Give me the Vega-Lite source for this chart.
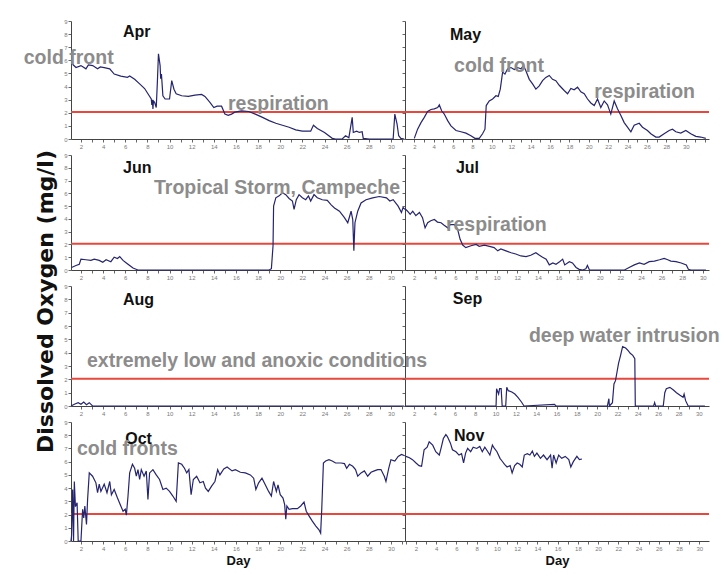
{
  "$schema": "https://vega.github.io/schema/vega-lite/v6.json",
  "background": "white",
  "padding": {"left": 23, "top": 18, "right": 5, "bottom": 5},
  "title": {"text": "Dissolved Oxygen (mg/l)", "orient": "left", "anchor": "middle", "font": "DejaVu Sans", "fontSize": 22, "fontWeight": "bold", "color": "#111111", "offset": -34, "dx": -9},
  "bounds": "flush",
  "align": "each",
  "columns": 2,
  "spacing": {"row": 16, "column": 0},
  "datasets": {
    "thr": [{"v": 2.05}],
    "t": [
      {"m": "Apr", "k": "m", "d": 5.8, "v": 7.81, "label": "Apr"},
      {"m": "May", "k": "m", "d": 5.68, "v": 7.58, "label": "May"},
      {"m": "Jun", "k": "m", "d": 5.8, "v": 7.57, "label": "Jun"},
      {"m": "Jul", "k": "m", "d": 6.04, "v": 7.57, "label": "Jul"},
      {"m": "Aug", "k": "m", "d": 5.8, "v": 7.61, "label": "Aug"},
      {"m": "Sep", "k": "m", "d": 5.8, "v": 7.65, "label": "Sep"},
      {"m": "Oct", "k": "m", "d": 6.0, "v": 7.3, "label": "Oct"},
      {"m": "Nov", "k": "m", "d": 5.76, "v": 7.6, "label": "Nov"},
      {"m": "Apr", "k": "a", "d": -3.17, "v": 5.72, "label": "cold front"},
      {"m": "Apr", "k": "a", "d": 15.28, "v": 2.24, "label": "respiration"},
      {"m": "May", "k": "a", "d": 6.1, "v": 5.09, "label": "cold front"},
      {"m": "May", "k": "a", "d": 20.56, "v": 3.13, "label": "respiration"},
      {"m": "Jun", "k": "a", "d": 8.6, "v": 5.97, "label": "Tropical Storm, Campeche"},
      {"m": "Jul", "k": "a", "d": 5.07, "v": 3.05, "label": "respiration"},
      {"m": "Aug", "k": "a", "d": 2.54, "v": 2.95, "label": "extremely low and anoxic conditions"},
      {"m": "Sep", "k": "a", "d": 13.28, "v": 4.81, "label": "deep water intrusion"},
      {"m": "Oct", "k": "a", "d": 1.64, "v": 6.53, "label": "cold fronts"}
    ],
    "s": [
      {"m":"Apr","d":1.24,"v":5.7},{"m":"Apr","d":1.55,"v":5.45},{"m":"Apr","d":2.0,"v":5.6},{"m":"Apr","d":2.45,"v":5.35},{"m":"Apr","d":2.67,"v":5.65},{"m":"Apr","d":3.06,"v":5.6},{"m":"Apr","d":3.5,"v":5.35},{"m":"Apr","d":3.75,"v":5.5},{"m":"Apr","d":4.1,"v":5.45},{"m":"Apr","d":4.6,"v":5.35},{"m":"Apr","d":5.0,"v":4.95},{"m":"Apr","d":5.6,"v":4.8},{"m":"Apr","d":6.2,"v":4.7},{"m":"Apr","d":6.4,"v":4.8},{"m":"Apr","d":6.85,"v":4.55},{"m":"Apr","d":7.3,"v":4.2},{"m":"Apr","d":7.75,"v":3.85},{"m":"Apr","d":8.05,"v":3.45},{"m":"Apr","d":8.35,"v":3.05},{"m":"Apr","d":8.4,"v":2.6},{"m":"Apr","d":8.45,"v":3.0},{"m":"Apr","d":8.5,"v":2.3},{"m":"Apr","d":8.55,"v":2.9},{"m":"Apr","d":8.65,"v":2.8},{"m":"Apr","d":8.8,"v":2.4},{"m":"Apr","d":8.9,"v":4.3},{"m":"Apr","d":9.0,"v":6.5},{"m":"Apr","d":9.15,"v":5.6},{"m":"Apr","d":9.2,"v":4.6},{"m":"Apr","d":9.27,"v":4.95},{"m":"Apr","d":9.4,"v":3.3},{"m":"Apr","d":9.6,"v":3.05},{"m":"Apr","d":10.0,"v":3.05},{"m":"Apr","d":10.2,"v":4.45},{"m":"Apr","d":10.4,"v":3.8},{"m":"Apr","d":10.6,"v":3.45},{"m":"Apr","d":11.1,"v":3.3},{"m":"Apr","d":11.7,"v":3.25},{"m":"Apr","d":12.3,"v":3.35},{"m":"Apr","d":12.9,"v":3.4},{"m":"Apr","d":13.2,"v":3.25},{"m":"Apr","d":13.65,"v":2.8},{"m":"Apr","d":14.0,"v":2.4},{"m":"Apr","d":14.3,"v":2.5},{"m":"Apr","d":14.7,"v":2.5},{"m":"Apr","d":15.0,"v":1.9},{"m":"Apr","d":15.3,"v":1.8},{"m":"Apr","d":15.6,"v":1.9},{"m":"Apr","d":15.9,"v":2.05},{"m":"Apr","d":16.5,"v":2.15},{"m":"Apr","d":17.15,"v":2.1},{"m":"Apr","d":17.75,"v":1.9},{"m":"Apr","d":18.4,"v":1.65},{"m":"Apr","d":19.0,"v":1.4},{"m":"Apr","d":19.6,"v":1.2},{"m":"Apr","d":20.2,"v":1.05},{"m":"Apr","d":20.8,"v":0.9},{"m":"Apr","d":21.4,"v":0.7},{"m":"Apr","d":22.0,"v":0.6},{"m":"Apr","d":22.75,"v":0.6},{"m":"Apr","d":23.0,"v":1.05},{"m":"Apr","d":23.35,"v":0.8},{"m":"Apr","d":24.0,"v":0.5},{"m":"Apr","d":24.7,"v":0.05},{"m":"Apr","d":25.0,"v":0},{"m":"Apr","d":25.6,"v":0},{"m":"Apr","d":25.9,"v":0.25},{"m":"Apr","d":26.2,"v":0.1},{"m":"Apr","d":26.5,"v":1.65},{"m":"Apr","d":26.6,"v":0.5},{"m":"Apr","d":26.9,"v":0.6},{"m":"Apr","d":27.15,"v":0.5},{"m":"Apr","d":27.4,"v":0.55},{"m":"Apr","d":27.5,"v":0.05},{"m":"Apr","d":28.05,"v":0},{"m":"Apr","d":30.2,"v":0},{"m":"Apr","d":30.35,"v":1.9},{"m":"Apr","d":30.55,"v":1.15},{"m":"Apr","d":30.7,"v":0.25},{"m":"Apr","d":30.9,"v":0.05},{"m":"Apr","d":31.2,"v":0},
      {"m":"May","d":2.0,"v":0.05},{"m":"May","d":2.34,"v":0.75},{"m":"May","d":2.69,"v":1.25},{"m":"May","d":3.03,"v":1.65},{"m":"May","d":3.37,"v":2.1},{"m":"May","d":3.72,"v":2.25},{"m":"May","d":4.06,"v":2.3},{"m":"May","d":4.41,"v":2.4},{"m":"May","d":4.58,"v":2.6},{"m":"May","d":4.82,"v":2.15},{"m":"May","d":5.09,"v":1.9},{"m":"May","d":5.44,"v":1.4},{"m":"May","d":5.78,"v":1.0},{"m":"May","d":6.3,"v":0.65},{"m":"May","d":6.81,"v":0.55},{"m":"May","d":7.33,"v":0.45},{"m":"May","d":7.84,"v":0.25},{"m":"May","d":8.25,"v":0.05},{"m":"May","d":8.7,"v":0.05},{"m":"May","d":9.04,"v":0.4},{"m":"May","d":9.29,"v":0.75},{"m":"May","d":9.42,"v":2.55},{"m":"May","d":9.73,"v":2.9},{"m":"May","d":10.08,"v":3.05},{"m":"May","d":10.42,"v":3.3},{"m":"May","d":10.66,"v":3.25},{"m":"May","d":10.87,"v":3.8},{"m":"May","d":11.11,"v":5.1},{"m":"May","d":11.35,"v":4.95},{"m":"May","d":11.62,"v":5.35},{"m":"May","d":11.97,"v":5.45},{"m":"May","d":12.31,"v":5.3},{"m":"May","d":12.65,"v":5.45},{"m":"May","d":13.0,"v":5.35},{"m":"May","d":13.27,"v":5.6},{"m":"May","d":13.51,"v":5.2},{"m":"May","d":13.86,"v":4.55},{"m":"May","d":14.2,"v":4.2},{"m":"May","d":14.54,"v":3.8},{"m":"May","d":14.89,"v":4.05},{"m":"May","d":15.23,"v":4.45},{"m":"May","d":15.57,"v":4.7},{"m":"May","d":15.92,"v":4.85},{"m":"May","d":16.26,"v":4.55},{"m":"May","d":16.6,"v":4.45},{"m":"May","d":16.95,"v":4.1},{"m":"May","d":17.46,"v":3.7},{"m":"May","d":17.81,"v":3.45},{"m":"May","d":18.15,"v":3.85},{"m":"May","d":18.49,"v":3.75},{"m":"May","d":18.84,"v":3.95},{"m":"May","d":19.18,"v":3.6},{"m":"May","d":19.53,"v":3.45},{"m":"May","d":19.87,"v":3.05},{"m":"May","d":20.21,"v":2.75},{"m":"May","d":20.56,"v":2.55},{"m":"May","d":20.9,"v":3.05},{"m":"May","d":21.24,"v":2.4},{"m":"May","d":21.59,"v":2.9},{"m":"May","d":21.93,"v":2.6},{"m":"May","d":22.27,"v":1.9},{"m":"May","d":22.62,"v":2.9},{"m":"May","d":22.96,"v":2.3},{"m":"May","d":23.31,"v":1.8},{"m":"May","d":23.65,"v":1.25},{"m":"May","d":23.99,"v":0.9},{"m":"May","d":24.34,"v":0.55},{"m":"May","d":24.68,"v":1.05},{"m":"May","d":25.2,"v":1.2},{"m":"May","d":25.54,"v":0.9},{"m":"May","d":26.05,"v":0.65},{"m":"May","d":26.4,"v":0.4},{"m":"May","d":26.91,"v":0.15},{"m":"May","d":27.26,"v":0.15},{"m":"May","d":27.77,"v":0.4},{"m":"May","d":28.29,"v":0.65},{"m":"May","d":28.63,"v":0.75},{"m":"May","d":28.98,"v":0.55},{"m":"May","d":29.49,"v":0.45},{"m":"May","d":30.01,"v":0.65},{"m":"May","d":30.52,"v":0.4},{"m":"May","d":31.04,"v":0.2},{"m":"May","d":31.55,"v":0.15},{"m":"May","d":32.07,"v":0.05},
      {"m":"Jun","d":1.15,"v":0.2},{"m":"Jun","d":1.55,"v":0.35},{"m":"Jun","d":1.85,"v":0.45},{"m":"Jun","d":2.0,"v":0.85},{"m":"Jun","d":2.45,"v":0.8},{"m":"Jun","d":2.9,"v":0.75},{"m":"Jun","d":3.2,"v":0.85},{"m":"Jun","d":3.65,"v":0.75},{"m":"Jun","d":3.97,"v":0.6},{"m":"Jun","d":4.27,"v":0.8},{"m":"Jun","d":4.7,"v":0.65},{"m":"Jun","d":5.0,"v":1.0},{"m":"Jun","d":5.3,"v":0.9},{"m":"Jun","d":5.5,"v":1.05},{"m":"Jun","d":5.8,"v":0.75},{"m":"Jun","d":6.1,"v":0.55},{"m":"Jun","d":6.4,"v":0.35},{"m":"Jun","d":6.7,"v":0.15},{"m":"Jun","d":7.15,"v":0},{"m":"Jun","d":19.0,"v":0},{"m":"Jun","d":19.2,"v":0.1},{"m":"Jun","d":19.35,"v":1.9},{"m":"Jun","d":19.4,"v":5.0},{"m":"Jun","d":19.6,"v":5.65},{"m":"Jun","d":19.9,"v":5.8},{"m":"Jun","d":20.2,"v":6.05},{"m":"Jun","d":20.5,"v":5.9},{"m":"Jun","d":20.8,"v":5.6},{"m":"Jun","d":21.1,"v":5.4},{"m":"Jun","d":21.25,"v":4.75},{"m":"Jun","d":21.45,"v":5.5},{"m":"Jun","d":21.7,"v":5.9},{"m":"Jun","d":22.0,"v":5.65},{"m":"Jun","d":22.3,"v":5.5},{"m":"Jun","d":22.55,"v":5.8},{"m":"Jun","d":22.75,"v":5.4},{"m":"Jun","d":23.05,"v":5.9},{"m":"Jun","d":23.35,"v":5.65},{"m":"Jun","d":23.8,"v":5.5},{"m":"Jun","d":24.25,"v":5.45},{"m":"Jun","d":24.6,"v":5.1},{"m":"Jun","d":24.9,"v":4.85},{"m":"Jun","d":25.35,"v":4.6},{"m":"Jun","d":25.8,"v":4.1},{"m":"Jun","d":26.1,"v":3.7},{"m":"Jun","d":26.4,"v":4.6},{"m":"Jun","d":26.55,"v":3.95},{"m":"Jun","d":26.65,"v":1.5},{"m":"Jun","d":26.75,"v":3.7},{"m":"Jun","d":27.0,"v":4.6},{"m":"Jun","d":27.3,"v":5.25},{"m":"Jun","d":27.75,"v":5.5},{"m":"Jun","d":28.35,"v":5.65},{"m":"Jun","d":28.95,"v":5.75},{"m":"Jun","d":29.6,"v":5.65},{"m":"Jun","d":29.9,"v":5.4},{"m":"Jun","d":30.2,"v":5.5},{"m":"Jun","d":30.65,"v":5.0},{"m":"Jun","d":30.95,"v":4.5},{"m":"Jun","d":31.1,"v":4.9},{"m":"Jun","d":31.25,"v":4.75},
      {"m":"Jul","d":1.1,"v":4.8},{"m":"Jul","d":1.35,"v":4.6},{"m":"Jul","d":1.6,"v":4.35},{"m":"Jul","d":1.85,"v":4.6},{"m":"Jul","d":2.15,"v":4.25},{"m":"Jul","d":2.5,"v":4.5},{"m":"Jul","d":2.8,"v":4.1},{"m":"Jul","d":3.05,"v":3.3},{"m":"Jul","d":3.3,"v":3.7},{"m":"Jul","d":3.6,"v":3.85},{"m":"Jul","d":3.95,"v":3.95},{"m":"Jul","d":4.25,"v":3.75},{"m":"Jul","d":4.6,"v":3.7},{"m":"Jul","d":4.9,"v":3.5},{"m":"Jul","d":5.25,"v":3.3},{"m":"Jul","d":5.5,"v":3.55},{"m":"Jul","d":5.9,"v":3.55},{"m":"Jul","d":6.2,"v":3.2},{"m":"Jul","d":6.45,"v":2.4},{"m":"Jul","d":6.7,"v":1.95},{"m":"Jul","d":7.0,"v":1.75},{"m":"Jul","d":7.5,"v":1.9},{"m":"Jul","d":8.0,"v":2.0},{"m":"Jul","d":8.3,"v":1.85},{"m":"Jul","d":8.8,"v":1.95},{"m":"Jul","d":9.3,"v":1.85},{"m":"Jul","d":9.75,"v":1.75},{"m":"Jul","d":10.1,"v":1.5},{"m":"Jul","d":10.4,"v":1.65},{"m":"Jul","d":10.9,"v":1.5},{"m":"Jul","d":11.4,"v":1.35},{"m":"Jul","d":11.85,"v":1.25},{"m":"Jul","d":12.35,"v":1.1},{"m":"Jul","d":12.85,"v":1.05},{"m":"Jul","d":13.3,"v":1.15},{"m":"Jul","d":13.8,"v":1.35},{"m":"Jul","d":14.15,"v":1.15},{"m":"Jul","d":14.45,"v":1.0},{"m":"Jul","d":14.8,"v":0.85},{"m":"Jul","d":15.1,"v":0.4},{"m":"Jul","d":15.45,"v":0.55},{"m":"Jul","d":15.75,"v":0.45},{"m":"Jul","d":16.1,"v":0.65},{"m":"Jul","d":16.4,"v":0.85},{"m":"Jul","d":16.6,"v":0.4},{"m":"Jul","d":17.05,"v":0.65},{"m":"Jul","d":17.35,"v":0.55},{"m":"Jul","d":17.7,"v":0.2},{"m":"Jul","d":18.0,"v":0.05},{"m":"Jul","d":18.35,"v":0},{"m":"Jul","d":18.65,"v":0.1},{"m":"Jul","d":18.8,"v":0.35},{"m":"Jul","d":19.0,"v":0},{"m":"Jul","d":22.4,"v":0},{"m":"Jul","d":22.85,"v":0.2},{"m":"Jul","d":23.35,"v":0.4},{"m":"Jul","d":23.85,"v":0.55},{"m":"Jul","d":24.3,"v":0.45},{"m":"Jul","d":24.8,"v":0.65},{"m":"Jul","d":25.3,"v":0.7},{"m":"Jul","d":25.8,"v":0.8},{"m":"Jul","d":26.25,"v":0.9},{"m":"Jul","d":26.6,"v":0.8},{"m":"Jul","d":26.9,"v":0.7},{"m":"Jul","d":27.4,"v":0.65},{"m":"Jul","d":27.9,"v":0.55},{"m":"Jul","d":28.4,"v":0.4},{"m":"Jul","d":28.6,"v":0.05},{"m":"Jul","d":28.85,"v":0},{"m":"Jul","d":30.3,"v":0},
      {"m":"Aug","d":1.1,"v":0},{"m":"Aug","d":1.4,"v":0.13},{"m":"Aug","d":1.75,"v":0.25},{"m":"Aug","d":2.0,"v":0.13},{"m":"Aug","d":2.25,"v":0.3},{"m":"Aug","d":2.5,"v":0.1},{"m":"Aug","d":2.75,"v":0.25},{"m":"Aug","d":3.05,"v":0},{"m":"Aug","d":31.2,"v":0},
      {"m":"Sep","d":1.1,"v":0},{"m":"Sep","d":10.05,"v":0},{"m":"Sep","d":10.1,"v":1.3},{"m":"Sep","d":10.3,"v":0.9},{"m":"Sep","d":10.4,"v":1.3},{"m":"Sep","d":10.55,"v":1.3},{"m":"Sep","d":10.65,"v":0},{"m":"Sep","d":11.0,"v":0},{"m":"Sep","d":11.1,"v":1.4},{"m":"Sep","d":11.25,"v":1.15},{"m":"Sep","d":11.6,"v":1.05},{"m":"Sep","d":11.9,"v":0.9},{"m":"Sep","d":12.2,"v":0.65},{"m":"Sep","d":12.55,"v":0.3},{"m":"Sep","d":12.8,"v":0},{"m":"Sep","d":15.8,"v":0.12},{"m":"Sep","d":15.95,"v":0},{"m":"Sep","d":21.0,"v":0},{"m":"Sep","d":21.15,"v":0.55},{"m":"Sep","d":21.2,"v":0},{"m":"Sep","d":21.5,"v":0.25},{"m":"Sep","d":21.65,"v":1.65},{"m":"Sep","d":21.8,"v":1.9},{"m":"Sep","d":21.95,"v":2.55},{"m":"Sep","d":22.1,"v":3.2},{"m":"Sep","d":22.3,"v":3.8},{"m":"Sep","d":22.5,"v":4.45},{"m":"Sep","d":22.8,"v":4.35},{"m":"Sep","d":23.05,"v":4.15},{"m":"Sep","d":23.25,"v":3.95},{"m":"Sep","d":23.5,"v":3.8},{"m":"Sep","d":23.7,"v":3.55},{"m":"Sep","d":23.75,"v":0},{"m":"Sep","d":25.55,"v":0},{"m":"Sep","d":25.65,"v":0.25},{"m":"Sep","d":25.75,"v":0},{"m":"Sep","d":26.5,"v":0},{"m":"Sep","d":26.65,"v":1.0},{"m":"Sep","d":26.8,"v":1.3},{"m":"Sep","d":27.15,"v":1.4},{"m":"Sep","d":27.5,"v":1.2},{"m":"Sep","d":27.8,"v":1.0},{"m":"Sep","d":28.15,"v":0.8},{"m":"Sep","d":28.45,"v":0.65},{"m":"Sep","d":28.55,"v":0.9},{"m":"Sep","d":28.7,"v":0.4},{"m":"Sep","d":28.95,"v":0},{"m":"Sep","d":30.6,"v":0},
      {"m":"Oct","d":1.1,"v":0},{"m":"Oct","d":1.15,"v":0.4},{"m":"Oct","d":1.25,"v":3.9},{"m":"Oct","d":1.33,"v":0},{"m":"Oct","d":1.4,"v":4.5},{"m":"Oct","d":1.5,"v":2.6},{"m":"Oct","d":1.65,"v":2.9},{"m":"Oct","d":1.75,"v":0},{"m":"Oct","d":2.0,"v":0},{"m":"Oct","d":2.15,"v":2.4},{"m":"Oct","d":2.25,"v":1.75},{"m":"Oct","d":2.35,"v":2.65},{"m":"Oct","d":2.5,"v":1.25},{"m":"Oct","d":2.6,"v":3.15},{"m":"Oct","d":2.75,"v":5.15},{"m":"Oct","d":3.05,"v":4.9},{"m":"Oct","d":3.35,"v":4.4},{"m":"Oct","d":3.5,"v":3.65},{"m":"Oct","d":3.65,"v":4.3},{"m":"Oct","d":3.8,"v":3.75},{"m":"Oct","d":4.1,"v":4.3},{"m":"Oct","d":4.35,"v":3.65},{"m":"Oct","d":4.6,"v":4.5},{"m":"Oct","d":4.75,"v":3.5},{"m":"Oct","d":5.0,"v":3.9},{"m":"Oct","d":5.3,"v":3.25},{"m":"Oct","d":5.6,"v":2.65},{"m":"Oct","d":5.8,"v":2.25},{"m":"Oct","d":6.0,"v":2.4},{"m":"Oct","d":6.1,"v":1.95},{"m":"Oct","d":6.25,"v":3.4},{"m":"Oct","d":6.4,"v":5.15},{"m":"Oct","d":6.65,"v":5.8},{"m":"Oct","d":6.85,"v":5.5},{"m":"Oct","d":7.0,"v":4.9},{"m":"Oct","d":7.15,"v":5.4},{"m":"Oct","d":7.3,"v":4.65},{"m":"Oct","d":7.45,"v":5.4},{"m":"Oct","d":7.7,"v":4.9},{"m":"Oct","d":7.9,"v":5.3},{"m":"Oct","d":8.05,"v":3.15},{"m":"Oct","d":8.2,"v":5.15},{"m":"Oct","d":8.5,"v":5.4},{"m":"Oct","d":8.8,"v":5.0},{"m":"Oct","d":9.1,"v":4.65},{"m":"Oct","d":9.4,"v":3.9},{"m":"Oct","d":9.7,"v":4.0},{"m":"Oct","d":10.0,"v":3.75},{"m":"Oct","d":10.3,"v":3.4},{"m":"Oct","d":10.6,"v":3.0},{"m":"Oct","d":10.8,"v":5.9},{"m":"Oct","d":11.1,"v":5.8},{"m":"Oct","d":11.35,"v":5.5},{"m":"Oct","d":11.55,"v":5.15},{"m":"Oct","d":11.75,"v":5.4},{"m":"Oct","d":11.95,"v":3.5},{"m":"Oct","d":12.15,"v":4.65},{"m":"Oct","d":12.45,"v":4.9},{"m":"Oct","d":12.75,"v":4.4},{"m":"Oct","d":13.05,"v":4.5},{"m":"Oct","d":13.25,"v":4.0},{"m":"Oct","d":13.5,"v":3.75},{"m":"Oct","d":13.8,"v":4.15},{"m":"Oct","d":14.1,"v":4.5},{"m":"Oct","d":14.35,"v":5.4},{"m":"Oct","d":14.55,"v":5.0},{"m":"Oct","d":14.9,"v":5.45},{"m":"Oct","d":15.2,"v":5.6},{"m":"Oct","d":15.65,"v":5.3},{"m":"Oct","d":15.95,"v":5.4},{"m":"Oct","d":16.4,"v":5.2},{"m":"Oct","d":16.85,"v":5.15},{"m":"Oct","d":17.3,"v":5.0},{"m":"Oct","d":17.6,"v":4.75},{"m":"Oct","d":17.8,"v":3.9},{"m":"Oct","d":18.05,"v":4.4},{"m":"Oct","d":18.35,"v":4.75},{"m":"Oct","d":18.65,"v":4.25},{"m":"Oct","d":18.95,"v":3.75},{"m":"Oct","d":19.2,"v":3.4},{"m":"Oct","d":19.4,"v":4.5},{"m":"Oct","d":19.65,"v":3.75},{"m":"Oct","d":19.8,"v":4.25},{"m":"Oct","d":20.0,"v":3.5},{"m":"Oct","d":20.25,"v":3.25},{"m":"Oct","d":20.4,"v":2.75},{"m":"Oct","d":20.5,"v":1.65},{"m":"Oct","d":20.6,"v":2.65},{"m":"Oct","d":20.8,"v":2.4},{"m":"Oct","d":21.1,"v":2.45},{"m":"Oct","d":21.55,"v":2.45},{"m":"Oct","d":21.85,"v":2.65},{"m":"Oct","d":22.15,"v":2.95},{"m":"Oct","d":22.35,"v":2.25},{"m":"Oct","d":22.6,"v":1.9},{"m":"Oct","d":22.9,"v":1.5},{"m":"Oct","d":23.2,"v":1.15},{"m":"Oct","d":23.5,"v":0.85},{"m":"Oct","d":23.65,"v":0.6},{"m":"Oct","d":23.75,"v":2.4},{"m":"Oct","d":23.9,"v":5.9},{"m":"Oct","d":24.1,"v":6.05},{"m":"Oct","d":24.4,"v":6.15},{"m":"Oct","d":24.7,"v":6.05},{"m":"Oct","d":25.0,"v":5.9},{"m":"Oct","d":25.5,"v":5.9},{"m":"Oct","d":25.8,"v":5.85},{"m":"Oct","d":26.0,"v":5.5},{"m":"Oct","d":26.25,"v":5.8},{"m":"Oct","d":26.55,"v":5.65},{"m":"Oct","d":26.8,"v":5.4},{"m":"Oct","d":27.0,"v":4.9},{"m":"Oct","d":27.3,"v":5.15},{"m":"Oct","d":27.6,"v":5.3},{"m":"Oct","d":27.9,"v":4.9},{"m":"Oct","d":28.2,"v":5.2},{"m":"Oct","d":28.5,"v":5.3},{"m":"Oct","d":28.8,"v":5.4},{"m":"Oct","d":29.1,"v":5.4},{"m":"Oct","d":29.4,"v":4.9},{"m":"Oct","d":29.55,"v":4.5},{"m":"Oct","d":29.8,"v":5.5},{"m":"Oct","d":30.0,"v":6.15},{"m":"Oct","d":30.35,"v":6.05},{"m":"Oct","d":30.65,"v":6.4},{"m":"Oct","d":30.95,"v":6.55},{"m":"Oct","d":31.25,"v":6.45},
      {"m":"Nov","d":1.0,"v":6.4},{"m":"Nov","d":1.35,"v":6.3},{"m":"Nov","d":1.65,"v":6.15},{"m":"Nov","d":2.0,"v":5.9},{"m":"Nov","d":2.3,"v":5.7},{"m":"Nov","d":2.55,"v":5.65},{"m":"Nov","d":2.8,"v":6.9},{"m":"Nov","d":3.1,"v":7.1},{"m":"Nov","d":3.3,"v":7.5},{"m":"Nov","d":3.65,"v":7.25},{"m":"Nov","d":3.95,"v":6.75},{"m":"Nov","d":4.3,"v":6.5},{"m":"Nov","d":4.5,"v":7.1},{"m":"Nov","d":4.7,"v":7.75},{"m":"Nov","d":4.95,"v":8.05},{"m":"Nov","d":5.1,"v":7.9},{"m":"Nov","d":5.4,"v":7.4},{"m":"Nov","d":5.6,"v":6.9},{"m":"Nov","d":5.95,"v":6.75},{"m":"Nov","d":6.25,"v":6.5},{"m":"Nov","d":6.5,"v":6.6},{"m":"Nov","d":6.7,"v":5.9},{"m":"Nov","d":6.9,"v":6.65},{"m":"Nov","d":7.1,"v":7.0},{"m":"Nov","d":7.4,"v":6.75},{"m":"Nov","d":7.65,"v":7.1},{"m":"Nov","d":8.0,"v":7.0},{"m":"Nov","d":8.3,"v":7.15},{"m":"Nov","d":8.55,"v":6.75},{"m":"Nov","d":8.8,"v":7.1},{"m":"Nov","d":9.1,"v":6.75},{"m":"Nov","d":9.3,"v":6.5},{"m":"Nov","d":9.55,"v":7.25},{"m":"Nov","d":9.75,"v":7.0},{"m":"Nov","d":10.0,"v":6.75},{"m":"Nov","d":10.3,"v":6.25},{"m":"Nov","d":10.5,"v":6.05},{"m":"Nov","d":10.75,"v":5.8},{"m":"Nov","d":11.0,"v":5.6},{"m":"Nov","d":11.3,"v":5.7},{"m":"Nov","d":11.5,"v":5.15},{"m":"Nov","d":11.75,"v":5.7},{"m":"Nov","d":12.0,"v":5.9},{"m":"Nov","d":12.25,"v":5.8},{"m":"Nov","d":12.5,"v":5.6},{"m":"Nov","d":12.7,"v":6.5},{"m":"Nov","d":13.0,"v":6.6},{"m":"Nov","d":13.25,"v":6.5},{"m":"Nov","d":13.5,"v":6.8},{"m":"Nov","d":13.7,"v":6.4},{"m":"Nov","d":13.95,"v":6.65},{"m":"Nov","d":14.3,"v":6.25},{"m":"Nov","d":14.6,"v":6.5},{"m":"Nov","d":14.95,"v":6.15},{"m":"Nov","d":15.3,"v":6.5},{"m":"Nov","d":15.45,"v":5.5},{"m":"Nov","d":15.6,"v":6.5},{"m":"Nov","d":15.85,"v":5.9},{"m":"Nov","d":16.1,"v":6.5},{"m":"Nov","d":16.4,"v":6.25},{"m":"Nov","d":16.75,"v":6.4},{"m":"Nov","d":17.1,"v":6.15},{"m":"Nov","d":17.3,"v":5.6},{"m":"Nov","d":17.55,"v":6.0},{"m":"Nov","d":17.9,"v":6.4},{"m":"Nov","d":18.15,"v":6.15},{"m":"Nov","d":18.4,"v":6.2}
    ]
  },
  "config": {
    "view": {"stroke": null},
    "axis": {"labelFontSize": 6, "labelColor": "#7a7a7a", "labelFont": "Liberation Sans", "tickColor": "#666666", "tickSize": 3, "domainColor": "#444444", "labelPadding": 1, "grid": false, "labelOverlap": false, "labelFlush": false},
    "axisX": {"tickCount": 40},
    "axisY": {"tickCount": 12},
    "text": {"font": "Liberation Sans", "fontWeight": "bold", "align": "left", "baseline": "alphabetic"}
  },
  "concat": [
    {"width": 334, "height": 118, "layer": [
      {"data": {"name": "thr"}, "mark": {"type": "rule", "color": "#e8473d", "strokeWidth": 2}, "encoding": {"y": {"field": "v", "type": "quantitative", "scale": {"domain": [0, 9], "nice": false}, "axis": {"values": [0,1,2,3,4,5,6,7,8,9], "tickCount": 12, "title": null}}}},
      {"data": {"name": "s"}, "transform": [{"filter": "datum.m == 'Apr'"}], "mark": {"type": "line", "color": "#25256f", "strokeWidth": 1.2}, "encoding": {"x": {"field": "d", "type": "quantitative", "scale": {"domain": [1.1, 31.27], "nice": false, "zero": false}, "axis": {"values": [1,2,3,4,5,6,7,8,9,10,11,12,13,14,15,16,17,18,19,20,21,22,23,24,25,26,27,28,29,30,31], "tickCount": 40, "labelExpr": "datum.value % 2 == 0 ? datum.label : ''", "title": null}}, "y": {"field": "v", "type": "quantitative"}}},
      {"data": {"name": "t"}, "transform": [{"filter": "datum.m == 'Apr' && datum.k == 'm'"}], "mark": {"type": "text", "fontSize": 16, "color": "#111111"}, "encoding": {"x": {"field": "d", "type": "quantitative"}, "y": {"field": "v", "type": "quantitative"}, "text": {"field": "label"}}},
      {"data": {"name": "t"}, "transform": [{"filter": "datum.m == 'Apr' && datum.k == 'a'"}], "mark": {"type": "text", "fontSize": 19.5, "color": "#8c8c8c"}, "encoding": {"x": {"field": "d", "type": "quantitative"}, "y": {"field": "v", "type": "quantitative"}, "text": {"field": "label"}}}
    ]},
    {"width": 304, "height": 118, "layer": [
      {"data": {"name": "thr"}, "mark": {"type": "rule", "color": "#e8473d", "strokeWidth": 2}, "encoding": {"y": {"field": "v", "type": "quantitative", "scale": {"domain": [0, 9], "nice": false}, "axis": {"values": [0,1,2,3,4,5,6,7,8,9], "tickCount": 12, "labels": false, "title": null}}}},
      {"data": {"name": "s"}, "transform": [{"filter": "datum.m == 'May'"}], "mark": {"type": "line", "color": "#25256f", "strokeWidth": 1.2}, "encoding": {"x": {"field": "d", "type": "quantitative", "scale": {"domain": [1.04, 32.4], "nice": false, "zero": false}, "axis": {"values": [1,2,3,4,5,6,7,8,9,10,11,12,13,14,15,16,17,18,19,20,21,22,23,24,25,26,27,28,29,30,31,32], "tickCount": 40, "labelExpr": "datum.value % 2 == 0 && datum.value < 31 ? datum.label : ''", "title": null}}, "y": {"field": "v", "type": "quantitative"}}},
      {"data": {"name": "t"}, "transform": [{"filter": "datum.m == 'May' && datum.k == 'm'"}], "mark": {"type": "text", "fontSize": 16, "color": "#111111"}, "encoding": {"x": {"field": "d", "type": "quantitative"}, "y": {"field": "v", "type": "quantitative"}, "text": {"field": "label"}}},
      {"data": {"name": "t"}, "transform": [{"filter": "datum.m == 'May' && datum.k == 'a'"}], "mark": {"type": "text", "fontSize": 19.5, "color": "#8c8c8c"}, "encoding": {"x": {"field": "d", "type": "quantitative"}, "y": {"field": "v", "type": "quantitative"}, "text": {"field": "label"}}}
    ]},
    {"width": 334, "height": 115, "layer": [
      {"data": {"name": "thr"}, "mark": {"type": "rule", "color": "#e8473d", "strokeWidth": 2}, "encoding": {"y": {"field": "v", "type": "quantitative", "scale": {"domain": [0, 9], "nice": false}, "axis": {"values": [0,1,2,3,4,5,6,7,8,9], "tickCount": 12, "title": null}}}},
      {"data": {"name": "s"}, "transform": [{"filter": "datum.m == 'Jun'"}], "mark": {"type": "line", "color": "#25256f", "strokeWidth": 1.2}, "encoding": {"x": {"field": "d", "type": "quantitative", "scale": {"domain": [1.1, 31.27], "nice": false, "zero": false}, "axis": {"values": [1,2,3,4,5,6,7,8,9,10,11,12,13,14,15,16,17,18,19,20,21,22,23,24,25,26,27,28,29,30,31], "tickCount": 40, "labelExpr": "datum.value % 2 == 0 ? datum.label : ''", "title": null}}, "y": {"field": "v", "type": "quantitative"}}},
      {"data": {"name": "t"}, "transform": [{"filter": "datum.m == 'Jun' && datum.k == 'm'"}], "mark": {"type": "text", "fontSize": 16, "color": "#111111"}, "encoding": {"x": {"field": "d", "type": "quantitative"}, "y": {"field": "v", "type": "quantitative"}, "text": {"field": "label"}}},
      {"data": {"name": "t"}, "transform": [{"filter": "datum.m == 'Jun' && datum.k == 'a'"}], "mark": {"type": "text", "fontSize": 19.5, "color": "#8c8c8c"}, "encoding": {"x": {"field": "d", "type": "quantitative"}, "y": {"field": "v", "type": "quantitative"}, "text": {"field": "label"}}}
    ]},
    {"width": 304, "height": 115, "layer": [
      {"data": {"name": "thr"}, "mark": {"type": "rule", "color": "#e8473d", "strokeWidth": 2}, "encoding": {"y": {"field": "v", "type": "quantitative", "scale": {"domain": [0, 9], "nice": false}, "axis": {"values": [0,1,2,3,4,5,6,7,8,9], "tickCount": 12, "labels": false, "title": null}}}},
      {"data": {"name": "s"}, "transform": [{"filter": "datum.m == 'Jul'"}], "mark": {"type": "line", "color": "#25256f", "strokeWidth": 1.2}, "encoding": {"x": {"field": "d", "type": "quantitative", "scale": {"domain": [1.1, 30.6], "nice": false, "zero": false}, "axis": {"values": [1,2,3,4,5,6,7,8,9,10,11,12,13,14,15,16,17,18,19,20,21,22,23,24,25,26,27,28,29,30], "tickCount": 40, "labelExpr": "datum.value % 2 == 0 ? datum.label : ''", "title": null}}, "y": {"field": "v", "type": "quantitative"}}},
      {"data": {"name": "t"}, "transform": [{"filter": "datum.m == 'Jul' && datum.k == 'm'"}], "mark": {"type": "text", "fontSize": 16, "color": "#111111"}, "encoding": {"x": {"field": "d", "type": "quantitative"}, "y": {"field": "v", "type": "quantitative"}, "text": {"field": "label"}}},
      {"data": {"name": "t"}, "transform": [{"filter": "datum.m == 'Jul' && datum.k == 'a'"}], "mark": {"type": "text", "fontSize": 19.5, "color": "#8c8c8c"}, "encoding": {"x": {"field": "d", "type": "quantitative"}, "y": {"field": "v", "type": "quantitative"}, "text": {"field": "label"}}}
    ]},
    {"width": 334, "height": 120, "layer": [
      {"data": {"name": "thr"}, "mark": {"type": "rule", "color": "#e8473d", "strokeWidth": 2}, "encoding": {"y": {"field": "v", "type": "quantitative", "scale": {"domain": [0, 9], "nice": false}, "axis": {"values": [0,1,2,3,4,5,6,7,8,9], "tickCount": 12, "title": null}}}},
      {"data": {"name": "s"}, "transform": [{"filter": "datum.m == 'Aug'"}], "mark": {"type": "line", "color": "#25256f", "strokeWidth": 1.2}, "encoding": {"x": {"field": "d", "type": "quantitative", "scale": {"domain": [1.1, 31.27], "nice": false, "zero": false}, "axis": {"values": [1,2,3,4,5,6,7,8,9,10,11,12,13,14,15,16,17,18,19,20,21,22,23,24,25,26,27,28,29,30,31], "tickCount": 40, "labelExpr": "datum.value % 2 == 0 ? datum.label : ''", "title": null}}, "y": {"field": "v", "type": "quantitative"}}},
      {"data": {"name": "t"}, "transform": [{"filter": "datum.m == 'Aug' && datum.k == 'm'"}], "mark": {"type": "text", "fontSize": 16, "color": "#111111"}, "encoding": {"x": {"field": "d", "type": "quantitative"}, "y": {"field": "v", "type": "quantitative"}, "text": {"field": "label"}}},
      {"data": {"name": "t"}, "transform": [{"filter": "datum.m == 'Aug' && datum.k == 'a'"}], "mark": {"type": "text", "fontSize": 19.5, "color": "#8c8c8c"}, "encoding": {"x": {"field": "d", "type": "quantitative"}, "y": {"field": "v", "type": "quantitative"}, "text": {"field": "label"}}}
    ]},
    {"width": 304, "height": 120, "layer": [
      {"data": {"name": "thr"}, "mark": {"type": "rule", "color": "#e8473d", "strokeWidth": 2}, "encoding": {"y": {"field": "v", "type": "quantitative", "scale": {"domain": [0, 9], "nice": false}, "axis": {"values": [0,1,2,3,4,5,6,7,8,9], "tickCount": 12, "labels": false, "title": null}}}},
      {"data": {"name": "s"}, "transform": [{"filter": "datum.m == 'Sep'"}], "mark": {"type": "line", "color": "#25256f", "strokeWidth": 1.2}, "encoding": {"x": {"field": "d", "type": "quantitative", "scale": {"domain": [1.09, 31.0], "nice": false, "zero": false}, "axis": {"values": [1,2,3,4,5,6,7,8,9,10,11,12,13,14,15,16,17,18,19,20,21,22,23,24,25,26,27,28,29,30], "tickCount": 40, "labelExpr": "datum.value % 2 == 0 ? datum.label : ''", "title": null}}, "y": {"field": "v", "type": "quantitative"}}},
      {"data": {"name": "t"}, "transform": [{"filter": "datum.m == 'Sep' && datum.k == 'm'"}], "mark": {"type": "text", "fontSize": 16, "color": "#111111"}, "encoding": {"x": {"field": "d", "type": "quantitative"}, "y": {"field": "v", "type": "quantitative"}, "text": {"field": "label"}}},
      {"data": {"name": "t"}, "transform": [{"filter": "datum.m == 'Sep' && datum.k == 'a'"}], "mark": {"type": "text", "fontSize": 19.5, "color": "#8c8c8c"}, "encoding": {"x": {"field": "d", "type": "quantitative"}, "y": {"field": "v", "type": "quantitative"}, "text": {"field": "label"}}}
    ]},
    {"width": 334, "height": 119, "layer": [
      {"data": {"name": "thr"}, "mark": {"type": "rule", "color": "#e8473d", "strokeWidth": 2}, "encoding": {"y": {"field": "v", "type": "quantitative", "scale": {"domain": [0, 9], "nice": false}, "axis": {"values": [0,1,2,3,4,5,6,7,8,9], "tickCount": 12, "title": null}}}},
      {"data": {"name": "s"}, "transform": [{"filter": "datum.m == 'Oct'"}], "mark": {"type": "line", "color": "#25256f", "strokeWidth": 1.2}, "encoding": {"x": {"field": "d", "type": "quantitative", "scale": {"domain": [1.1, 31.27], "nice": false, "zero": false}, "axis": {"values": [1,2,3,4,5,6,7,8,9,10,11,12,13,14,15,16,17,18,19,20,21,22,23,24,25,26,27,28,29,30,31], "tickCount": 40, "labelExpr": "datum.value % 2 == 0 ? datum.label : ''", "title": "Day", "titleFont": "Liberation Sans", "titleFontSize": 13, "titleFontWeight": "bold", "titleColor": "#111111", "titlePadding": 3}}, "y": {"field": "v", "type": "quantitative"}}},
      {"data": {"name": "t"}, "transform": [{"filter": "datum.m == 'Oct' && datum.k == 'm'"}], "mark": {"type": "text", "fontSize": 16, "color": "#111111"}, "encoding": {"x": {"field": "d", "type": "quantitative"}, "y": {"field": "v", "type": "quantitative"}, "text": {"field": "label"}}},
      {"data": {"name": "t"}, "transform": [{"filter": "datum.m == 'Oct' && datum.k == 'a'"}], "mark": {"type": "text", "fontSize": 19.5, "color": "#8c8c8c"}, "encoding": {"x": {"field": "d", "type": "quantitative"}, "y": {"field": "v", "type": "quantitative"}, "text": {"field": "label"}}}
    ]},
    {"width": 304, "height": 119, "layer": [
      {"data": {"name": "thr"}, "mark": {"type": "rule", "color": "#e8473d", "strokeWidth": 2}, "encoding": {"y": {"field": "v", "type": "quantitative", "scale": {"domain": [0, 9], "nice": false}, "axis": {"values": [0,1,2,3,4,5,6,7,8,9], "tickCount": 12, "labels": false, "title": null}}}},
      {"data": {"name": "s"}, "transform": [{"filter": "datum.m == 'Nov'"}], "mark": {"type": "line", "color": "#25256f", "strokeWidth": 1.2}, "encoding": {"x": {"field": "d", "type": "quantitative", "scale": {"domain": [0.91, 30.96], "nice": false, "zero": false}, "axis": {"values": [1,2,3,4,5,6,7,8,9,10,11,12,13,14,15,16,17,18,19,20,21,22,23,24,25,26,27,28,29,30], "tickCount": 40, "labelExpr": "datum.value % 2 == 0 ? datum.label : ''", "title": "Day", "titleFont": "Liberation Sans", "titleFontSize": 13, "titleFontWeight": "bold", "titleColor": "#111111", "titlePadding": 3}}, "y": {"field": "v", "type": "quantitative"}}},
      {"data": {"name": "t"}, "transform": [{"filter": "datum.m == 'Nov' && datum.k == 'm'"}], "mark": {"type": "text", "fontSize": 16, "color": "#111111"}, "encoding": {"x": {"field": "d", "type": "quantitative"}, "y": {"field": "v", "type": "quantitative"}, "text": {"field": "label"}}}
    ]}
  ]
}
